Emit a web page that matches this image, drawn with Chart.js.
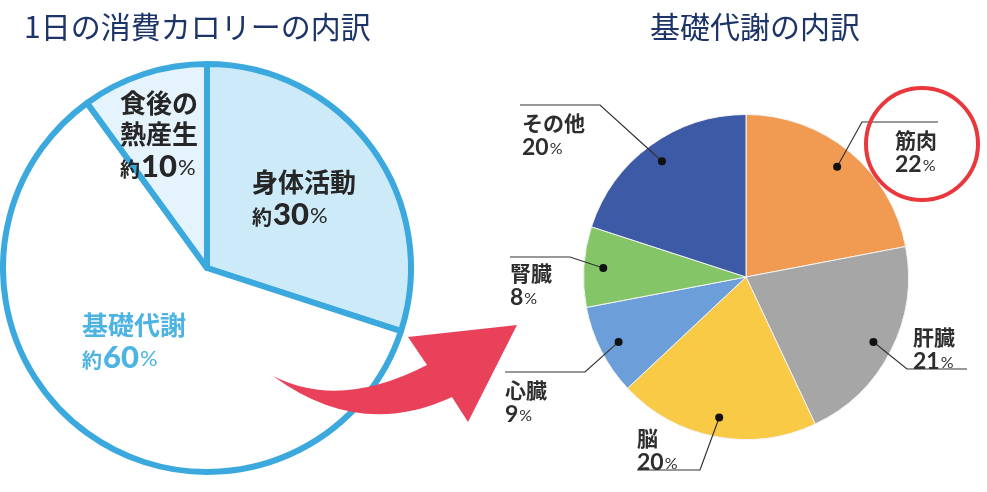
<!DOCTYPE html>
<html lang="ja">
<head>
<meta charset="utf-8">
<script src="https://cdn.jsdelivr.net/npm/chart.js@4.4.0/dist/chart.umd.min.js"></script>
<style>
html, body { margin: 0; padding: 0; background: #fff; }
body { width: 987px; height: 492px; position: relative; overflow: hidden; }
#leftWrap { position: absolute; left: 0; top: 0; width: 987px; height: 492px; }
#rightWrap { position: absolute; left: 490px; top: 60px; width: 497px; height: 432px; }
</style>
</head>
<body>
<div id="leftWrap"><canvas id="calorieChart"></canvas></div>
<div id="rightWrap"><canvas id="basalChart"></canvas></div>
<script>
// 1日の消費カロリー
const calorieLabels = ['身体活動', '基礎代謝', '食後の熱産生'];
const calorieValues = [30, 60, 10];
const calorieColors = ['#cdeaf9', '#ffffff', '#e5f4fc'];

// 基礎代謝の内訳
const basalLabels = ['筋肉', '肝臓', '脳', '心臓', '腎臓', 'その他'];
const basalValues = [22, 21, 20, 9, 8, 20];
const basalColors = ['#f09a52', '#a6a6a6', '#f8ca46', '#6c9fd9', '#84c567', '#3d5aa6'];

const JP = '"Noto Sans CJK JP", "Noto Sans", sans-serif';
const NUM = 'Lato, "Noto Sans", sans-serif';

// label positions (page coords), same order as data
const calorieTextPos = [
    { x: 252, y: 182, color: '#262626', lines: ['身体活動'] },
    { x: 82, y: 325, color: '#4db3e2', lines: ['基礎代謝'] },
    { x: 120, y: 103, color: '#262626', lines: ['食後の', '熱産生'] }
];
// leader line elbow + end x, label top-left (right canvas coords)
const basalTextPos = [
    { elbow: [372, 62], endX: 448, tx: 405, ty: 80 },
    { elbow: [417, 309], endX: 477, tx: 423, ty: 277 },
    { elbow: [210, 410], endX: 147, tx: 147, ty: 378 },
    { elbow: [95, 312], endX: 15, tx: 15, ty: 330 },
    { elbow: [80, 197], endX: 20, tx: 20, ty: 213 },
    { elbow: [110, 45], endX: 30, tx: 32, ty: 63 }
];

function drawRuns(ctx, x, y, runs) {
    ctx.textBaseline = 'middle';
    ctx.textAlign = 'left';
    runs.forEach((r) => {
        ctx.font = r.font;
        ctx.fillStyle = r.color;
        ctx.fillText(r.text, x, y + (r.dy || 0));
        x += ctx.measureText(r.text).width + (r.gap || 0);
    });
}

const calorieOverlay = {
    id: 'calorieOverlay',
    afterDraw(chart) {
        const ctx = chart.ctx;
        ctx.save();

        // titles
        drawRuns(ctx, 24, 27, [{ text: '1日の消費カロリーの内訳', font: '30px ' + JP, color: '#1c3468' }]);
        drawRuns(ctx, 650, 27, [{ text: '基礎代謝の内訳', font: '30px ' + JP, color: '#1c3468' }]);

        // slice labels
        calorieTextPos.forEach((p, i) => {
            let y = p.y;
            p.lines.forEach((line) => {
                drawRuns(ctx, p.x, y, [{ text: line, font: 'bold 26px ' + JP, color: p.color }]);
                y += 31;
            });
            y += 2;
            drawRuns(ctx, p.x, y, [
                { text: '約', font: 'bold 20px ' + JP, color: p.color, gap: 1, dy: 2 },
                { text: String(calorieValues[i]), font: '900 31px ' + NUM, color: p.color, gap: 1 },
                { text: '%', font: '22px ' + NUM, color: p.color, dy: 1 }
            ]);
        });

        // red arrow
        ctx.fillStyle = '#e9415a';
        ctx.beginPath();
        ctx.moveTo(273, 376);
        ctx.quadraticCurveTo(340, 410, 427, 365);
        ctx.lineTo(408, 337);
        ctx.lineTo(517, 325);
        ctx.lineTo(468, 422);
        ctx.lineTo(452, 397);
        ctx.quadraticCurveTo(360, 440, 273, 376);
        ctx.closePath();
        ctx.fill();

        ctx.restore();
    }
};

const basalOverlay = {
    id: 'basalOverlay',
    afterDraw(chart) {
        const ctx = chart.ctx;
        const arcs = chart.getDatasetMeta(0).data;
        ctx.save();

        arcs.forEach((arc, i) => {
            const p = basalTextPos[i];
            const mid = (arc.startAngle + arc.endAngle) / 2;
            const dx = arc.x + Math.cos(mid) * arc.outerRadius * 0.88;
            const dy = arc.y + Math.sin(mid) * arc.outerRadius * 0.88;

            ctx.strokeStyle = '#333';
            ctx.lineWidth = 1.2;
            ctx.beginPath();
            ctx.moveTo(dx, dy);
            ctx.lineTo(p.elbow[0], p.elbow[1]);
            ctx.lineTo(p.endX, p.elbow[1]);
            ctx.stroke();

            ctx.fillStyle = '#111';
            ctx.beginPath();
            ctx.arc(dx, dy, 4, 0, Math.PI * 2);
            ctx.fill();

            drawRuns(ctx, p.tx, p.ty, [{ text: basalLabels[i], font: 'bold 21px ' + JP, color: '#2e2e2e' }]);
            drawRuns(ctx, p.tx, p.ty + 25, [
                { text: String(basalValues[i]), font: 'bold 23px ' + NUM, color: '#2e2e2e', gap: 1 },
                { text: '%', font: '16px ' + NUM, color: '#2e2e2e', dy: 1 }
            ]);
        });

        // circle around 筋肉
        ctx.strokeStyle = '#e8383d';
        ctx.lineWidth = 4;
        ctx.beginPath();
        ctx.ellipse(432, 84, 56, 56, 0, 0, Math.PI * 2);
        ctx.stroke();

        ctx.restore();
    }
};

const commonOptions = {
    responsive: true,
    maintainAspectRatio: false,
    animation: false,
    events: [],
    plugins: { legend: { display: false }, tooltip: { enabled: false } }
};

new Chart(document.getElementById('calorieChart').getContext('2d'), {
    type: 'pie',
    data: {
        labels: calorieLabels,
        datasets: [{
            data: calorieValues,
            backgroundColor: calorieColors,
            borderColor: '#3ba9de',
            borderWidth: 6,
            borderJoinStyle: 'round'
        }]
    },
    options: {
        ...commonOptions,
        layout: { padding: { left: 0, top: 61, right: 573, bottom: 17 } }
    },
    plugins: [calorieOverlay]
});

new Chart(document.getElementById('basalChart').getContext('2d'), {
    type: 'pie',
    data: {
        labels: basalLabels,
        datasets: [{
            data: basalValues,
            backgroundColor: basalColors,
            borderColor: '#f3f3f3',
            borderWidth: 1
        }]
    },
    options: {
        ...commonOptions,
        layout: { padding: { left: 93, top: 54, right: 78, bottom: 52 } }
    },
    plugins: [basalOverlay]
});
</script>
</body>
</html>
